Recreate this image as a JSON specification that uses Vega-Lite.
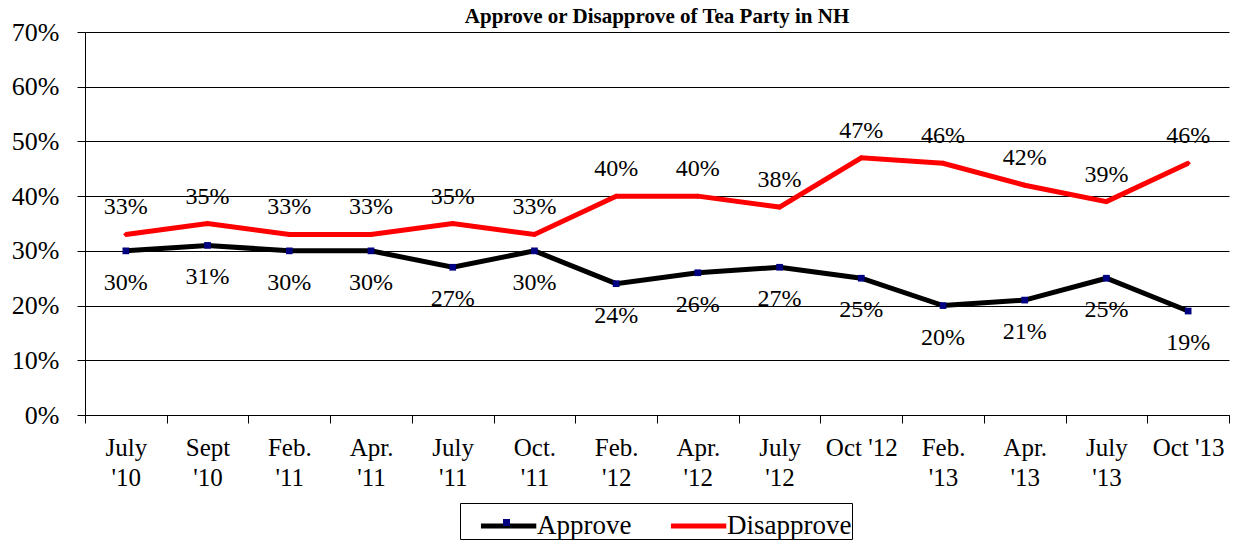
{
  "$schema": "https://vega.github.io/schema/vega-lite/v6.json",
  "autosize": {"type": "none"},
  "width": 1144,
  "height": 383,
  "padding": {"left": 85, "top": 32, "right": 8, "bottom": 130},
  "background": "white",
  "config": {
    "font": "Liberation Serif",
    "view": {"stroke": null}
  },
  "title": {
    "text": "Approve or Disapprove of Tea Party in NH",
    "font": "Liberation Serif",
    "fontSize": 21,
    "fontWeight": "bold",
    "anchor": "middle",
    "offset": -8,
    "color": "black"
  },
  "data": {
    "values": [
      {"period": "July '10", "series": "Approve", "value": 0.30},
      {"period": "Sept '10", "series": "Approve", "value": 0.31},
      {"period": "Feb. '11", "series": "Approve", "value": 0.30},
      {"period": "Apr. '11", "series": "Approve", "value": 0.30},
      {"period": "July '11", "series": "Approve", "value": 0.27},
      {"period": "Oct. '11", "series": "Approve", "value": 0.30},
      {"period": "Feb. '12", "series": "Approve", "value": 0.24},
      {"period": "Apr. '12", "series": "Approve", "value": 0.26},
      {"period": "July '12", "series": "Approve", "value": 0.27},
      {"period": "Oct '12", "series": "Approve", "value": 0.25},
      {"period": "Feb. '13", "series": "Approve", "value": 0.20},
      {"period": "Apr. '13", "series": "Approve", "value": 0.21},
      {"period": "July '13", "series": "Approve", "value": 0.25},
      {"period": "Oct '13", "series": "Approve", "value": 0.19},
      {"period": "July '10", "series": "Disapprove", "value": 0.33},
      {"period": "Sept '10", "series": "Disapprove", "value": 0.35},
      {"period": "Feb. '11", "series": "Disapprove", "value": 0.33},
      {"period": "Apr. '11", "series": "Disapprove", "value": 0.33},
      {"period": "July '11", "series": "Disapprove", "value": 0.35},
      {"period": "Oct. '11", "series": "Disapprove", "value": 0.33},
      {"period": "Feb. '12", "series": "Disapprove", "value": 0.40},
      {"period": "Apr. '12", "series": "Disapprove", "value": 0.40},
      {"period": "July '12", "series": "Disapprove", "value": 0.38},
      {"period": "Oct '12", "series": "Disapprove", "value": 0.47},
      {"period": "Feb. '13", "series": "Disapprove", "value": 0.46},
      {"period": "Apr. '13", "series": "Disapprove", "value": 0.42},
      {"period": "July '13", "series": "Disapprove", "value": 0.39},
      {"period": "Oct '13", "series": "Disapprove", "value": 0.46}
    ]
  },
  "encoding": {
    "x": {
      "field": "period",
      "type": "ordinal",
      "sort": null,
      "scale": {"paddingInner": 0, "paddingOuter": 0},
      "axis": {
        "title": null,
        "labelAngle": 0,
        "labelFont": "Liberation Serif",
        "labelFontSize": 25,
        "labelColor": "black",
        "labelLineHeight": 30,
        "labelPadding": 12,
        "labelExpr": "indexof(datum.label, 'Oct ') == 0 ? datum.label : split(datum.label, ' ')",
        "tickBand": "extent",
        "tickSize": 8,
        "tickColor": "black",
        "domainColor": "black",
        "grid": false
      }
    },
    "y": {
      "field": "value",
      "type": "quantitative",
      "scale": {"domain": [0, 0.7], "nice": false},
      "axis": {
        "title": null,
        "values": [0, 0.1, 0.2, 0.3, 0.4, 0.5, 0.6, 0.7],
        "format": ".0%",
        "labelFont": "Liberation Serif",
        "labelFontSize": 26,
        "labelColor": "black",
        "labelPadding": 18,
        "tickSize": 8,
        "tickColor": "black",
        "domainColor": "black",
        "grid": true,
        "gridColor": "black",
        "gridOpacity": 1,
        "gridWidth": 1
      }
    }
  },
  "layer": [
    {
      "mark": {"type": "line", "strokeWidth": 5},
      "encoding": {
        "color": {
          "field": "series",
          "type": "nominal",
          "scale": {"domain": ["Approve", "Disapprove"], "range": ["#000000", "#ff0000"]},
          "legend": {
            "title": null,
            "orient": "none",
            "legendX": 375,
            "legendY": 471,
            "direction": "horizontal",
            "symbolType": "M-0.1,0L2.6,0",
            "symbolSize": 1681,
            "symbolStrokeWidth": 5,
            "symbolFillColor": "transparent",
            "labelFont": "Liberation Serif",
            "labelFontSize": 27,
            "labelColor": "black",
            "strokeColor": "black",
            "padding": 0,
            "columnPadding": 18,
            "labelOffset": 31,
            "zindex": 1
          }
        }
      }
    },
    {
      "transform": [{"filter": "datum.series == 'Approve'"}],
      "mark": {"type": "point", "filled": true, "size": 45, "color": "#000080", "opacity": 1},
      "encoding": {
        "shape": {
          "field": "series",
          "type": "nominal",
          "scale": {"domain": ["Approve"], "range": ["square"]},
          "legend": {
            "title": null,
            "orient": "none",
            "legendX": 418,
            "legendY": 487,
            "symbolSize": 49,
            "symbolFillColor": "#000080",
            "symbolStrokeColor": "#000080",
            "symbolStrokeWidth": 0,
            "symbolOpacity": 1,
            "labelExpr": "''",
            "labelFontSize": 1,
            "labelOffset": 0,
            "padding": 0,
            "zindex": 2
          }
        }
      }
    },
    {
      "transform": [{"filter": "datum.series == 'Disapprove'"}],
      "mark": {"type": "point", "shape": "diamond", "filled": true, "size": 30, "color": "#ff0000", "opacity": 1}
    },
    {
      "transform": [{"filter": "datum.series == 'Approve'"}],
      "mark": {"type": "text", "dy": 32, "fontSize": 24, "font": "Liberation Serif", "color": "black"},
      "encoding": {"text": {"field": "value", "type": "quantitative", "format": ".0%"}}
    },
    {
      "transform": [{"filter": "datum.series == 'Disapprove'"}],
      "mark": {"type": "text", "dy": -27, "fontSize": 24, "font": "Liberation Serif", "color": "black"},
      "encoding": {"text": {"field": "value", "type": "quantitative", "format": ".0%"}}
    }
  ]
}
